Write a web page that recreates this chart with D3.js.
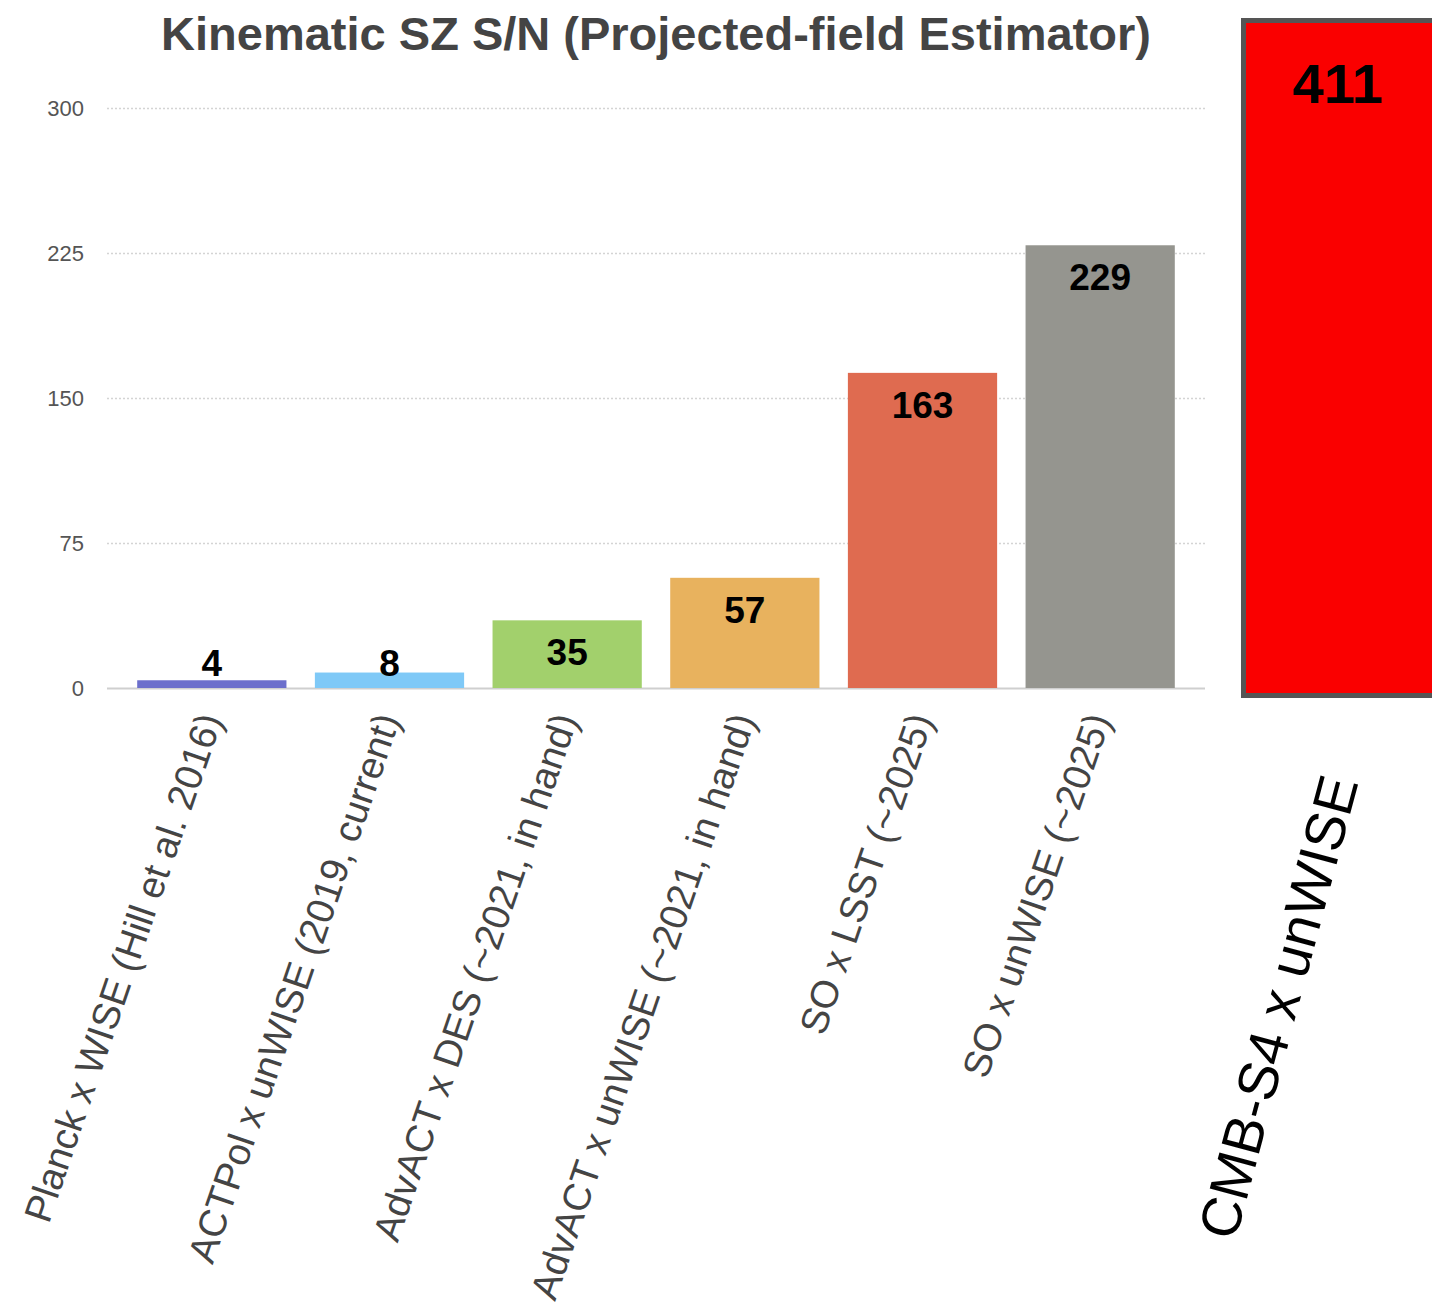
<!DOCTYPE html>
<html>
<head>
<meta charset="utf-8">
<script src="https://cdn.jsdelivr.net/npm/d3@7"></script>
<style>
  html, body { margin: 0; padding: 0; background: #ffffff; }
  svg { display: block; }
  text { font-family: "Liberation Sans", Arial, Helvetica, sans-serif; }
</style>
</head>
<body>
<svg id="chart" width="1432" height="1310"></svg>
<script>
// Survey combinations and their forecast kSZ signal-to-noise
const categories = [
  "Planck x WISE (Hill et al. 2016)",
  "ACTPol x unWISE (2019, current)",
  "AdvACT x DES (~2021, in hand)",
  "AdvACT x unWISE (~2021, in hand)",
  "SO x LSST (~2025)",
  "SO x unWISE (~2025)"
];
const values = [4, 8, 35, 57, 163, 229];
const barColors = ["#6c6fcc", "#7fc9f7", "#a2d06c", "#e8b25e", "#df6b50", "#95958f"];
const yTicks = [0, 75, 150, 225, 300];

// The CMB-S4 forecast, drawn as its own oversized bar at the right
const s4Category = ["CMB-S4 x unWISE"];
const s4Values = [411];

const titleText = "Kinematic SZ S/N (Projected-field Estimator)";

const svg = d3.select("#chart");

// Main panel geometry
const plotLeft = 107, plotRight = 1205;
const plotTop = 108, plotBottom = 688;

const x = d3.scaleBand()
  .domain(categories)
  .range([plotLeft, plotRight])
  .paddingInner(0.16)
  .paddingOuter(0.17);

const y = d3.scaleLinear()
  .domain([0, 300])
  .range([plotBottom, plotTop]);

// Title
svg.append("text")
  .attr("x", 656)
  .attr("y", 50)
  .attr("text-anchor", "middle")
  .attr("font-size", 47)
  .attr("font-weight", "bold")
  .attr("fill", "#444444")
  .text(titleText);

// Dotted gridlines with value labels on the left
const yAxis = d3.axisLeft(y)
  .tickValues(yTicks)
  .tickSize(-(plotRight - plotLeft))
  .tickPadding(23)
  .tickFormat(d3.format("d"));

const gAxis = svg.append("g")
  .attr("transform", `translate(${plotLeft},0)`)
  .call(yAxis);
gAxis.select(".domain").remove();
gAxis.selectAll(".tick line")
  .attr("stroke", d => d === 0 ? "#cfcfcf" : "#d4d4d4")
  .attr("stroke-width", d => d === 0 ? 2 : 1.5)
  .attr("stroke-dasharray", d => d === 0 ? null : "2,2");
gAxis.selectAll(".tick text")
  .attr("font-size", 22)
  .attr("fill", "#555555")
  .attr("font-family", "\"Liberation Sans\", Arial, sans-serif");

// Bars
svg.append("g")
  .selectAll("rect")
  .data(values)
  .join("rect")
  .attr("x", (d, i) => x(categories[i]))
  .attr("width", x.bandwidth())
  .attr("y", d => y(d))
  .attr("height", d => y(0) - y(d))
  .attr("fill", (d, i) => barColors[i]);

// Value labels: inside the top of the bar, or just above the axis for short bars
svg.append("g")
  .selectAll("text")
  .data(values)
  .join("text")
  .attr("x", (d, i) => x(categories[i]) + x.bandwidth() / 2)
  .attr("y", d => Math.min(y(d) + 45, y(0) - 12))
  .attr("text-anchor", "middle")
  .attr("font-size", 37)
  .attr("font-weight", "bold")
  .attr("fill", "#000000")
  .text(d => d);

// Slanted category labels under the axis
svg.append("g")
  .selectAll("text")
  .data(categories)
  .join("text")
  .attr("transform", d => `translate(${x(d) + x.bandwidth() / 2 + 11},719) rotate(-71)`)
  .attr("text-anchor", "end")
  .attr("font-size", 38.5)
  .attr("fill", "#444444")
  .text(d => d);

// CMB-S4 bar, on its own scale
const xS4 = d3.scaleBand()
  .domain(s4Category)
  .range([1241, 1435])
  .padding(0);
const yS4 = d3.scaleLinear()
  .domain([0, 411])
  .range([698, 18]);

svg.append("g")
  .selectAll("rect")
  .data(s4Values)
  .join("rect")
  .attr("x", (d, i) => xS4(s4Category[i]) + 2.5)
  .attr("width", xS4.bandwidth())
  .attr("y", d => yS4(d) + 2.5)
  .attr("height", d => yS4(0) - yS4(d) - 5)
  .attr("fill", "#fa0000")
  .attr("stroke", "#555555")
  .attr("stroke-width", 5);

svg.append("g")
  .selectAll("text")
  .data(s4Values)
  .join("text")
  .attr("x", (d, i) => xS4(s4Category[i]) + xS4.bandwidth() / 2)
  .attr("y", d => yS4(d) + 85)
  .attr("text-anchor", "middle")
  .attr("font-size", 56)
  .attr("font-weight", "bold")
  .attr("fill", "#000000")
  .text(d => d);

svg.append("text")
  .attr("transform", "translate(1278,1007) rotate(-75)")
  .attr("text-anchor", "middle")
  .attr("dy", "0.35em")
  .attr("font-size", 56)
  .attr("fill", "#000000")
  .text(s4Category[0]);
</script>
</body>
</html>
